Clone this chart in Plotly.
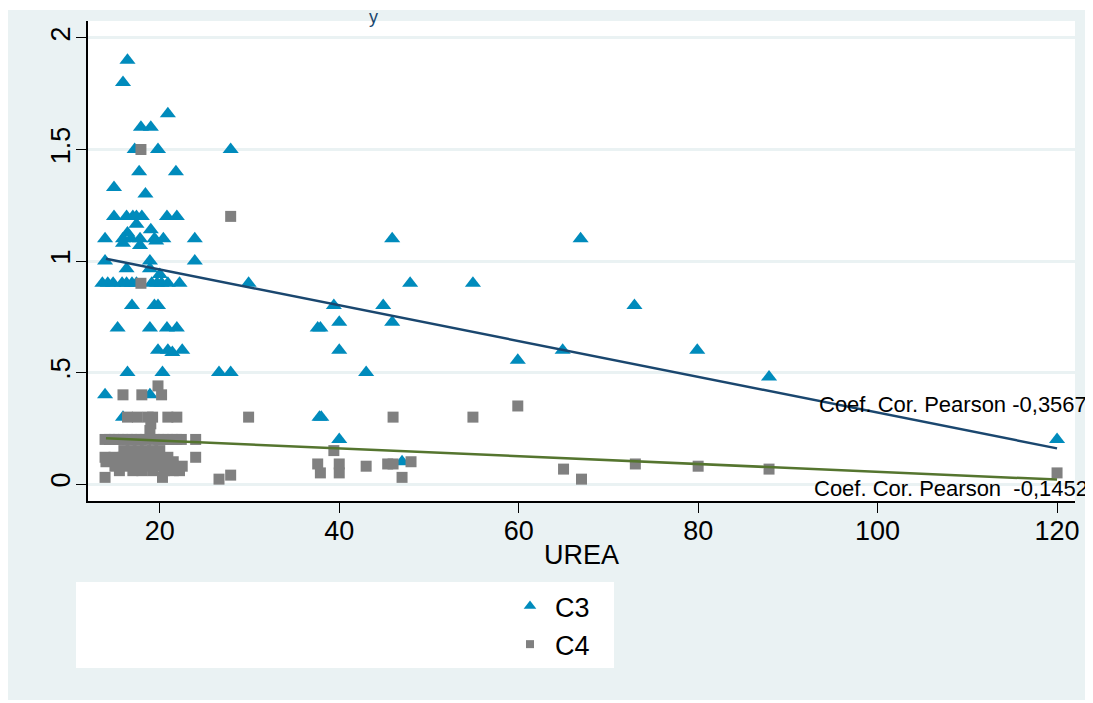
import plotly.graph_objects as go

# ---- data ----
c3_x = [16.4, 15.9, 20.9, 17.9, 19.0,
        17.2, 19.8, 27.9,
        17.7, 21.8,
        14.9, 18.4,
        14.9, 16.3, 17.0, 17.4, 18.0, 20.8, 21.9,
        17.4,
        16.4, 19.0,
        13.9, 15.9, 16.8, 17.8, 19.4, 20.4, 23.9, 45.9, 66.9,
        15.9, 17.8, 19.6,
        13.9, 18.9, 23.9,
        16.3, 18.9, 20.0,
        13.6, 14.2, 14.8, 15.8, 16.3, 16.9, 17.4, 19.1, 19.7, 20.2, 20.9, 22.2, 29.9, 47.9, 54.9,
        16.9, 19.4, 19.8, 39.4, 44.9, 72.9,
        40.0, 45.9,
        15.3, 18.9, 20.8, 21.9, 37.6, 37.9,
        19.8, 20.9, 21.4, 22.5, 40.0, 64.9, 79.9,
        59.9,
        16.4, 20.3, 26.6, 27.9, 43.0,
        87.9,
        13.9, 18.9,
        15.9, 37.8, 38.0,
        40.0, 120.0,
        47.0]
c3_y = [1.9, 1.8, 1.66, 1.6, 1.6,
        1.5, 1.5, 1.5,
        1.4, 1.4,
        1.33, 1.3,
        1.2, 1.2, 1.2, 1.2, 1.2, 1.2, 1.2,
        1.165,
        1.125, 1.14,
        1.1, 1.1, 1.1, 1.1, 1.1, 1.1, 1.1, 1.1, 1.1,
        1.08, 1.07, 1.09,
        1.0, 1.0, 1.0,
        0.965, 0.965, 0.94,
        0.9, 0.9, 0.9, 0.9, 0.9, 0.9, 0.9, 0.9, 0.9, 0.9, 0.9, 0.9, 0.9, 0.9, 0.9,
        0.8, 0.8, 0.8, 0.8, 0.8, 0.8,
        0.725, 0.725,
        0.7, 0.7, 0.7, 0.7, 0.7, 0.7,
        0.6, 0.6, 0.59, 0.6, 0.6, 0.6, 0.6,
        0.555,
        0.5, 0.5, 0.5, 0.5, 0.5,
        0.48,
        0.4, 0.4,
        0.3, 0.3, 0.3,
        0.2, 0.2,
        0.1]

c4_x = [17.9, 27.9, 17.9,
        19.8,
        15.9, 18.0, 20.2,
        16.4, 17.5, 18.7, 19.2, 20.9, 21.9, 29.9, 46.0, 54.9,
        59.9,
        19.0, 18.9,
        13.9, 14.4, 14.9, 15.4, 15.9, 16.4, 16.9, 17.4, 17.9, 18.4, 19.4, 19.9, 20.4, 20.9, 21.4, 21.9, 22.4, 24.0,
        16.0, 16.8, 17.6, 18.4, 19.2, 20.0, 39.4,
        13.9, 14.9, 15.9, 16.9, 17.9, 18.9, 19.9, 20.9, 24.0,
        14.0, 15.5, 17.0, 18.5, 20.0, 21.5, 48.0,
        37.6, 40.0, 45.4, 46.0, 73.0,
        15.0, 16.0, 17.5, 18.5, 19.5, 20.5, 21.5, 22.5, 43.0, 80.0,
        65.0, 87.9,
        15.5, 17.0, 18.0, 19.2, 20.5, 21.5, 22.2,
        37.9, 40.0, 120.0,
        27.9,
        13.9, 20.3, 47.0,
        26.6, 67.0]
c4_y = [1.5, 1.2, 0.9,
        0.44,
        0.4, 0.4, 0.4,
        0.3, 0.3, 0.3, 0.3, 0.3, 0.3, 0.3, 0.3, 0.3,
        0.35,
        0.27, 0.24,
        0.2, 0.2, 0.2, 0.2, 0.2, 0.2, 0.2, 0.2, 0.2, 0.2, 0.2, 0.2, 0.2, 0.2, 0.2, 0.2, 0.2, 0.2,
        0.15, 0.15, 0.15, 0.15, 0.15, 0.15, 0.15,
        0.12, 0.12, 0.12, 0.12, 0.12, 0.12, 0.12, 0.12, 0.12,
        0.1, 0.1, 0.1, 0.1, 0.1, 0.1, 0.1,
        0.09, 0.09, 0.09, 0.09, 0.09,
        0.08, 0.08, 0.08, 0.08, 0.08, 0.08, 0.08, 0.08, 0.08, 0.08,
        0.067, 0.067,
        0.06, 0.06, 0.06, 0.06, 0.06, 0.06, 0.06,
        0.05, 0.05, 0.05,
        0.04,
        0.03, 0.03, 0.03,
        0.022, 0.022]

fit_x = [14, 120]
fit_c3 = [1.01, 0.16]
fit_c4 = [0.205, 0.02]

y_ticks = [0, 0.5, 1, 1.5, 2]
y_tick_text = ["0", ".5", "1", "1.5", "2"]
x_ticks = [20, 40, 60, 80, 100, 120]

C3_COL = "#008BBC"
C4_COL = "#808080"
NAVY = "#1A476F"
GREEN = "#55752F"
BG = "#EAF2F3"

OFF = 8  # page body margin
W, H = 1093 - OFF, 703 - OFF
L, T = 88 - OFF, 21 - OFF
R = W - (1075 - OFF)
B = H - (501 - OFF)
PW = W - L - R
PH = H - T - B

def px(xp):
    # page pixel -> paper x
    return (xp - OFF - L) / PW

def py(yp):
    # page pixel -> paper y
    return (H - B - (yp - OFF)) / PH

fig = go.Figure()

fig.add_trace(go.Scatter(x=c3_x, y=c3_y, mode="markers", showlegend=False,
                         marker=dict(symbol="triangle-up", size=14, color=C3_COL, line=dict(width=0))))
fig.add_trace(go.Scatter(x=c4_x, y=c4_y, mode="markers", showlegend=False,
                         marker=dict(symbol="square", size=11, color=C4_COL, line=dict(width=0))))
fig.add_trace(go.Scatter(x=fit_x, y=fit_c3, mode="lines", showlegend=False,
                         line=dict(color=NAVY, width=2.5)))
fig.add_trace(go.Scatter(x=fit_x, y=fit_c4, mode="lines", showlegend=False,
                         line=dict(color=GREEN, width=2.5)))
# legend entries
fig.add_trace(go.Scatter(x=[None], y=[None], mode="markers", name="C3",
                         marker=dict(symbol="triangle-up", size=11, color=C3_COL, line=dict(width=0))))
fig.add_trace(go.Scatter(x=[None], y=[None], mode="markers", name="C4",
                         marker=dict(symbol="square", size=8, color=C4_COL, line=dict(width=0))))

shapes = [
    dict(type="rect", xref="paper", yref="paper", layer="below",
         x0=px(7), x1=px(1100), y0=py(700), y1=py(10),
         fillcolor=BG, line=dict(width=0)),
    dict(type="rect", xref="paper", yref="paper", layer="below",
         x0=0, x1=1, y0=0, y1=1, fillcolor="white", line=dict(width=0)),
    dict(type="rect", xref="paper", yref="paper", layer="below",
         x0=px(76), x1=px(614), y0=py(668), y1=py(582),
         fillcolor="white", line=dict(width=0)),
]

annotations = [
    dict(text="Coef. Cor. Pearson -0,3567", xref="paper", yref="paper",
         x=px(1089), y=py(404), xanchor="right", yanchor="middle", showarrow=False,
         font=dict(family="Liberation Sans, Arial", size=22, color="black")),
    dict(text="Coef. Cor. Pearson  -0,1452", xref="paper", yref="paper",
         x=px(1090), y=py(488), xanchor="right", yanchor="middle", showarrow=False,
         font=dict(family="Liberation Sans, Arial", size=22, color="black")),
    dict(text="y", xref="paper", yref="paper",
         x=px(373), y=py(5), xanchor="center", yanchor="top", showarrow=False,
         font=dict(family="Liberation Sans, Arial", size=18, color=NAVY)),
]

fig.update_layout(
    width=W, height=H,
    margin=dict(l=L, r=R, t=T, b=B, pad=0),
    paper_bgcolor="white",
    plot_bgcolor="rgba(0,0,0,0)",
    font=dict(family="Liberation Sans, Arial", size=27, color="black"),
    shapes=shapes,
    annotations=annotations,
    legend=dict(x=px(505), y=py(582), xanchor="left", yanchor="top",
                bgcolor="rgba(0,0,0,0)", font=dict(size=27),
                itemwidth=40, tracegroupgap=0),
    xaxis=dict(range=[12, 122], tickvals=x_ticks, ticks="outside", ticklen=10,
               tickcolor="black", tickwidth=1, showgrid=False, zeroline=False,
               showline=True, linecolor="black", linewidth=1.5,
               tickfont=dict(size=27), ticklabelstandoff=-5,
               title=dict(text="UREA", font=dict(size=27), standoff=0)),
    yaxis=dict(range=[-0.076, 2.076], tickvals=y_ticks, ticktext=y_tick_text,
               tickangle=-90, ticks="outside", ticklen=10, tickcolor="black",
               tickwidth=1, showgrid=True, gridcolor=BG, gridwidth=2.5,
               zeroline=False, showline=True, linecolor="black", linewidth=1.5,
               tickfont=dict(size=27), ticklabelstandoff=-5),
)

fig.write_html("out.html")
